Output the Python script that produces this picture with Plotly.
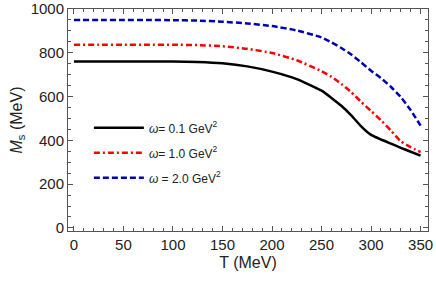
import plotly.graph_objects as go

T = [0, 25, 50, 75, 100, 125, 150, 175, 200, 225, 250, 260, 270, 280, 290, 300, 310, 320, 330, 340, 350]
M_w01 = [760, 760, 760, 760, 760, 758, 752, 738, 714, 680, 627, 594, 558, 514, 464, 425, 404, 385, 366, 348, 330]
M_w10 = [837, 837, 837, 837, 837, 835, 830, 818, 799, 766, 716, 690, 658, 620, 576, 534, 492, 445, 396, 369, 346]
M_w20 = [950, 950, 950, 950, 949, 947, 942, 934, 922, 902, 870, 848, 822, 792, 756, 718, 684, 645, 598, 538, 467]

names = ["<i>ω</i>= 0.1 GeV<sup>2</sup>", "<i>ω</i>= 1.0 GeV<sup>2</sup>", "<i>ω</i> = 2.0 GeV<sup>2</sup>"]
colors = ["#000000", "#ff0000", "#0000b4"]
dashes = ["solid", "6px,3px,2px,3px", "6px,3px"]
series = [M_w01, M_w10, M_w20]

FONT = "Liberation Sans, Arial"

fig = go.Figure()
for i, (y, n, c, d) in enumerate(zip(series, names, colors, dashes)):
    fig.add_trace(go.Scatter(x=T, y=y, mode="lines", name=n, legendgroup=str(i),
                             line=dict(color=c, width=2.5, dash=d, shape="spline", smoothing=0.5)))

axis_common = dict(
    showgrid=False, zeroline=False, showline=True, linecolor="#555555", linewidth=1,
    mirror="allticks", ticks="inside", ticklen=5, tickcolor="#555555",
    tickfont=dict(family=FONT, size=15, color="#222222"), automargin=False,
)
fig.update_xaxes(range=[-6, 357.5], tick0=0, dtick=50,
                 minor=dict(dtick=10, ticks="inside", ticklen=3, tickcolor="#555555"),
                 title=dict(text="T (MeV)", font=dict(family=FONT, size=16, color="#222222"), standoff=4),
                 **axis_common)
fig.update_yaxes(range=[-14, 1000], tick0=0, dtick=200,
                 minor=dict(dtick=50, ticks="inside", ticklen=3, tickcolor="#555555"),
                 title=dict(text="<i>M</i><sub>s</sub> (MeV)", font=dict(family=FONT, size=16, color="#222222"), standoff=4),
                 **axis_common)

fig.update_layout(
    width=436, height=282,
    margin=dict(l=68, r=8, t=9, b=51),
    paper_bgcolor="white", plot_bgcolor="white",
    showlegend=True,
    legend=dict(x=0.058, y=0.53, xanchor="left", yanchor="top", bgcolor="rgba(0,0,0,0)",
                font=dict(family=FONT, size=12, color="#222222"),
                tracegroupgap=6, itemwidth=50),
)

# remove the browser's default 8px body margin so the figure sits at the page origin
fig.write_html("out.html", config={"displayModeBar": False},
               post_script="document.body.style.margin='0';")
